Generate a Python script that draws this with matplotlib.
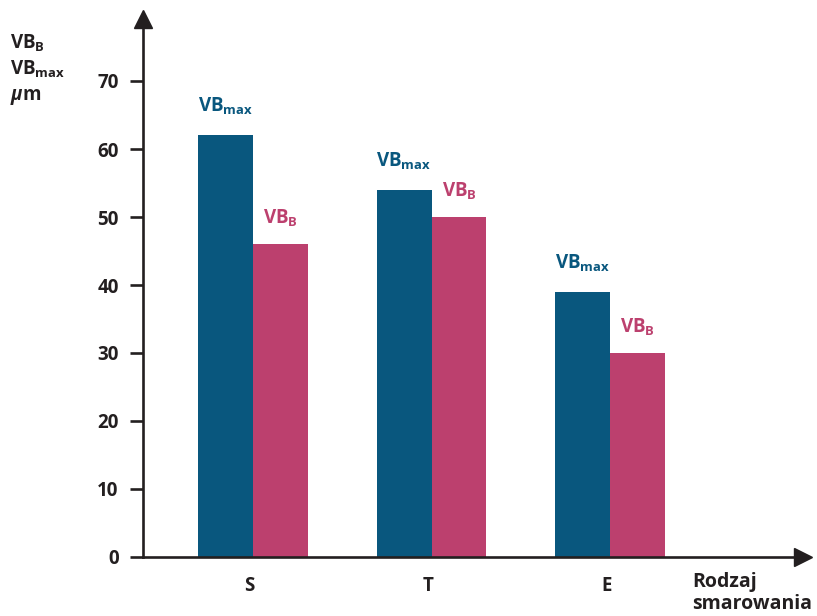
import matplotlib
matplotlib.use("Agg")
import matplotlib.pyplot as plt
import numpy as np

# Data
categories = ["S", "T", "E"]
vb_max = [62, 54, 39]
vb_b = [46, 50, 30]
y_ticks = [0, 10, 20, 30, 40, 50, 60, 70]

BLUE = "#09577e"
PINK = "#bc406e"
INK = "#231f20"
FONT = "Open Sans"

plt.rcParams["font.family"] = FONT
plt.rcParams["mathtext.fontset"] = "custom"
plt.rcParams["mathtext.rm"] = f"{FONT}:bold"
plt.rcParams["mathtext.bf"] = f"{FONT}:bold"
plt.rcParams["mathtext.it"] = f"{FONT}:bold:italic"

W, H = 817, 616
X0, X1 = 143, 803   # axes left/right in pixels
Y0, Y1 = 557, 19    # axes bottom/top in pixels
PX_PER_CAT = 178.5
PX_PER_UNIT = 6.8
CAT0 = 253

fig = plt.figure(figsize=(W / 100, H / 100), dpi=100)
ax = fig.add_axes([X0 / W, (H - Y0) / H, (X1 - X0) / W, (Y0 - Y1) / H])

x = np.arange(len(categories))
w = 0.308
ax.bar(x - w / 2, vb_max, width=w, color=BLUE, zorder=2)
ax.bar(x + w / 2, vb_b, width=w, color=PINK, zorder=2)

for xi, v in zip(x, vb_max):
    ax.annotate(r"$\mathbf{VB_{max}}$", (xi - w / 2, v), xytext=(0, 13),
                textcoords="offset points", ha="center", va="bottom",
                color=BLUE, fontsize=13.5)
for xi, v in zip(x, vb_b):
    ax.annotate(r"$\mathbf{VB_{B}}$", (xi + w / 2, v), xytext=(0, 11),
                textcoords="offset points", ha="center", va="bottom",
                color=PINK, fontsize=13.5)

ax.set_xlim((X0 - CAT0) / PX_PER_CAT, (X1 - CAT0) / PX_PER_CAT)
ax.set_ylim(0, (Y0 - Y1) / PX_PER_UNIT)

for s in ("top", "right"):
    ax.spines[s].set_visible(False)
for s in ("left", "bottom"):
    ax.spines[s].set_linewidth(1.9)
    ax.spines[s].set_color(INK)

ax.set_yticks(y_ticks)
ax.set_yticklabels([str(t) for t in y_ticks], fontsize=13.5, fontweight="bold", color=INK)
ax.tick_params(axis="y", length=9.5, width=1.9, color=INK, pad=8)
ax.set_xticks(x - 0.02)
ax.set_xticklabels(categories, fontsize=13.5, fontweight="bold", color=INK)
ax.tick_params(axis="x", length=0, pad=14)

# Axis arrowheads
ax.plot([0], [1], marker="^", markersize=13, color=INK, transform=ax.transAxes, clip_on=False)
ax.plot([1], [0], marker=">", markersize=13, color=INK, transform=ax.transAxes, clip_on=False)

fig.text(10 / W, 1 - 33 / H, r"$\mathbf{VB_{B}}$" + "\n" + r"$\mathbf{VB_{max}}$" + "\n" + r"$\mathit{\mu}$" + "m",
         ha="left", va="top", fontsize=13.5, fontweight="bold", color=INK, linespacing=1.3)
fig.text(692 / W, 1 - 572 / H, "Rodzaj\nsmarowania", ha="left", va="top",
         fontsize=14, fontweight="bold", color=INK, linespacing=1.15)

fig.savefig("out.png", dpi=100)
